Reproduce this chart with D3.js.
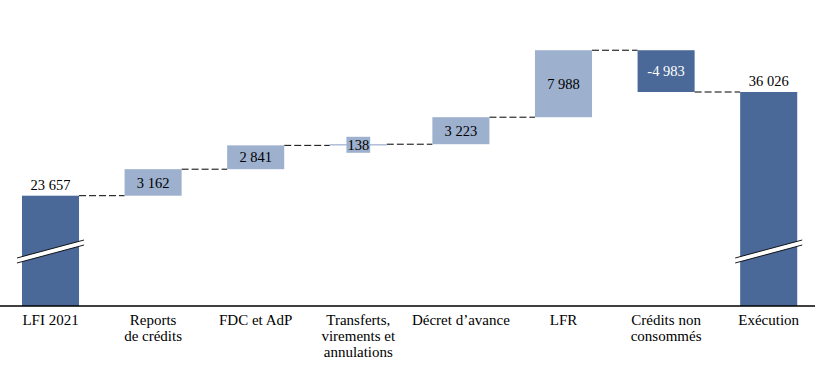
<!DOCTYPE html>
<html>
<head>
<meta charset="utf-8">
<script src="https://cdn.jsdelivr.net/npm/d3@7"></script>
<style>
  body { margin: 0; background: #fff; }
</style>
</head>
<body>
<div id="chart"></div>
<script>
// Data
var categories = ["LFI 2021", "Reports de crédits", "FDC et AdP", "Transferts, virements et annulations",
                  "Décret d'avance", "LFR", "Crédits non consommés", "Exécution"];
var categoryLines = [["LFI 2021"], ["Reports", "de crédits"], ["FDC et AdP"], ["Transferts,", "virements et", "annulations"],
                     ["Décret d’avance"], ["LFR"], ["Crédits non", "consommés"], ["Exécution"]];
var values = [23657, 3162, 2841, 138, 3223, 7988, -4983, 36026];
var kinds = ["total", "delta", "delta", "delta", "delta", "delta", "delta", "total"];

var width = 815, height = 366;
var baseline = 306;
var darkBlue = "#4a6998";
var lightBlue = "#9db0ce";
var serif = "Liberation Serif";

var fmt = function (v) {
  var s = d3.format(",")(Math.abs(v)).replace(/,/g, " ");
  return (v < 0 ? "-" : "") + s;
};

// build waterfall steps
var running = 0;
var steps = values.map(function (v, i) {
  var s;
  if (kinds[i] === "total") {
    s = { start: 0, end: v };
    running = v;
  } else {
    s = { start: running, end: running + v };
    running += v;
  }
  s.cat = categories[i];
  s.value = v;
  s.kind = kinds[i];
  s.lines = categoryLines[i];
  return s;
});

var svg = d3.select("#chart")
  .append("svg")
  .attr("width", width)
  .attr("height", height);

var x = d3.scaleBand()
  .domain(categories)
  .range([-0.8, 820])
  .paddingInner(0.444)
  .paddingOuter(0.222);

// broken axis: the scale starts well above zero
var y = d3.scaleLinear()
  .domain([10500, 47000])
  .range([baseline, 0]);

function barTop(d) {
  return d.kind === "total" ? y(d.end) : y(Math.max(d.start, d.end));
}
function barBottom(d) {
  return d.kind === "total" ? baseline : y(Math.min(d.start, d.end));
}
function barColor(d) {
  return (d.kind === "total" || d.value < 0) ? darkBlue : lightBlue;
}

// Connectors
svg.selectAll(".connector")
  .data(steps.slice(0, -1))
  .join("line")
  .attr("class", "connector")
  .attr("x1", function (d) { return x(d.cat) + x.bandwidth(); })
  .attr("x2", function (d, i) { return x(steps[i + 1].cat); })
  .attr("y1", function (d) { return y(d.end); })
  .attr("y2", function (d) { return y(d.end); })
  .attr("stroke", "#000")
  .attr("stroke-width", 1)
  .attr("stroke-dasharray", "7,3");

// Bars
svg.selectAll(".bar")
  .data(steps)
  .join("rect")
  .attr("class", "bar")
  .attr("x", function (d) { return x(d.cat); })
  .attr("width", x.bandwidth())
  .attr("y", barTop)
  .attr("height", function (d) { return Math.max(1.2, barBottom(d) - barTop(d)); })
  .attr("fill", barColor);

// Break marks on total bars
var breakY = 249;
steps.filter(function (d) { return d.kind === "total"; }).forEach(function (d) {
  var x0 = x(d.cat) - 5, x1 = x(d.cat) + x.bandwidth() + 5;
  var rise = 18, gap = 5;
  var g = svg.append("g").attr("class", "break");
  g.append("path")
    .attr("d", "M" + x0 + "," + (breakY + rise / 2) + "L" + x1 + "," + (breakY - rise / 2) +
      "L" + x1 + "," + (breakY - rise / 2 + gap) + "L" + x0 + "," + (breakY + rise / 2 + gap) + "Z")
    .attr("fill", "#fff");
  [0, gap].forEach(function (off) {
    g.append("line")
      .attr("x1", x0).attr("y1", breakY + rise / 2 + off)
      .attr("x2", x1).attr("y2", breakY - rise / 2 + off)
      .attr("stroke", "#000")
      .attr("stroke-width", 0.9);
  });
});

// Axis baseline
svg.append("line")
  .attr("x1", 0).attr("x2", width)
  .attr("y1", baseline).attr("y2", baseline)
  .attr("stroke", "#000")
  .attr("stroke-width", 1.5);

// Value labels
steps.forEach(function (d) {
  var cx = x(d.cat) + x.bandwidth() / 2;
  if (d.kind === "total") {
    svg.append("text")
      .attr("x", cx)
      .attr("y", y(d.end) - 6)
      .attr("text-anchor", "middle")
      .style("font-family", serif)
      .style("font-size", "14.5px")
      .attr("fill", "#000")
      .text(fmt(d.value));
  } else {
    var cy = (barTop(d) + barBottom(d)) / 2;
    var t = svg.append("text")
      .attr("x", cx)
      .attr("y", cy)
      .attr("dy", "0.35em")
      .attr("text-anchor", "middle")
      .style("font-family", serif)
      .style("font-size", "14.5px")
      .attr("fill", d.value < 0 ? "#fff" : "#000")
      .text(fmt(d.value));
    // small bar: give the label its own box
    if (barBottom(d) - barTop(d) < 14) {
      var bb = t.node().getBBox();
      svg.insert("rect", function () { return t.node(); })
        .attr("x", bb.x - 1)
        .attr("y", cy - 8)
        .attr("width", bb.width + 2)
        .attr("height", 16)
        .attr("fill", lightBlue);
    }
  }
});

// Category labels
steps.forEach(function (d) {
  var t = svg.append("text")
    .attr("x", x(d.cat) + x.bandwidth() / 2)
    .attr("y", 325)
    .attr("text-anchor", "middle")
    .style("font-family", serif)
    .style("font-size", "15px")
    .attr("fill", "#000");
  d.lines.forEach(function (line, i) {
    t.append("tspan")
      .attr("x", x(d.cat) + x.bandwidth() / 2)
      .attr("dy", i === 0 ? 0 : 16)
      .text(line);
  });
});
</script>
</body>
</html>
